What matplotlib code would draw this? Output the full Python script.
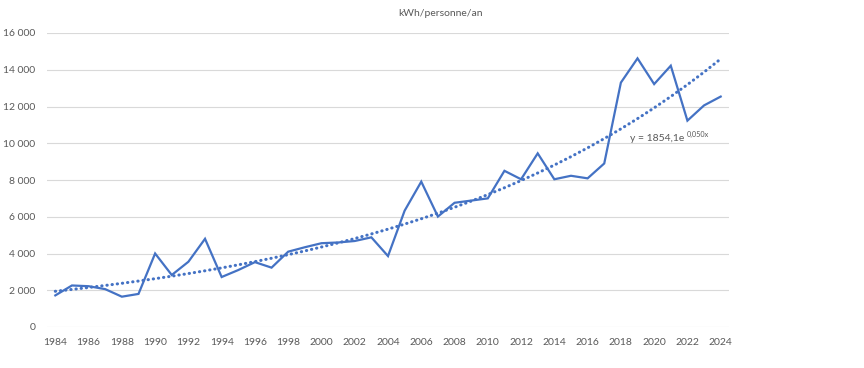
import numpy as np
import matplotlib
matplotlib.use("Agg")
import matplotlib.pyplot as plt

years = list(range(1984, 2025))
values = [1720, 2260, 2220, 2060, 1650, 1800, 4000, 2830, 3550, 4800,
          2720, 3100, 3530, 3230, 4100, 4340, 4560, 4600, 4680, 4880,
          3860, 6330, 7910, 6010, 6760, 6880, 7000, 8500, 8040, 9450,
          8040, 8230, 8090, 8900, 13300, 14620, 13220, 14220, 11230, 12060, 12540]
title = "kWh/personne/an"
equation_main = "y = 1854,1e"
equation_exp = "0,050x"

plt.rcParams['font.family'] = ['Lato', 'DejaVu Sans']
blue = "#4472C4"
grey_txt = "#595959"

fig = plt.figure(figsize=(8.64, 3.68), dpi=100)
ax = fig.add_axes([47/864, 41/368, (729-47)/864, (327-33)/368])

x = np.arange(len(years))
ax.plot(x, values, color=blue, lw=1.6, solid_joinstyle='miter', zorder=3)

# exponential trend fitted to the data (Excel-style, x = 1..n)
xi = x + 1
b, lna = np.polyfit(xi, np.log(values), 1)
trend = np.exp(lna) * np.exp(b * xi)
ax.plot(x, trend, color=blue, lw=2.2, linestyle=(0, (0.1, 1.6)),
        dash_capstyle='round', zorder=2)

ax.set_xlim(-0.5, len(years) - 0.5)
ax.set_ylim(0, 16000)
ax.set_yticks(np.arange(0, 16001, 2000))
ax.set_yticklabels([f"{v:,}".replace(",", " ") for v in range(0, 16001, 2000)])
ax.set_xticks(x[::2])
ax.set_xticklabels([str(y) for y in years[::2]])
ax.grid(axis='y', color="#d9d9d9", lw=0.8)
ax.set_axisbelow(True)
for s in ax.spines.values():
    s.set_visible(False)
ax.tick_params(axis='both', length=0, colors=grey_txt, labelsize=7.5)
ax.tick_params(axis='y', pad=8.5)
ax.tick_params(axis='x', pad=8)

fig.text(440/864, 1 - 13/368, title, ha='center', va='center', fontsize=7.5, color=grey_txt)

fig.text(630/864, 1 - 141/368, equation_main, ha='left', va='baseline', fontsize=7.5, color=grey_txt)
fig.text(687/864, 1 - 136.5/368, equation_exp, ha='left', va='baseline', fontsize=5.2, color=grey_txt)

fig.savefig("out.png", dpi=100)
